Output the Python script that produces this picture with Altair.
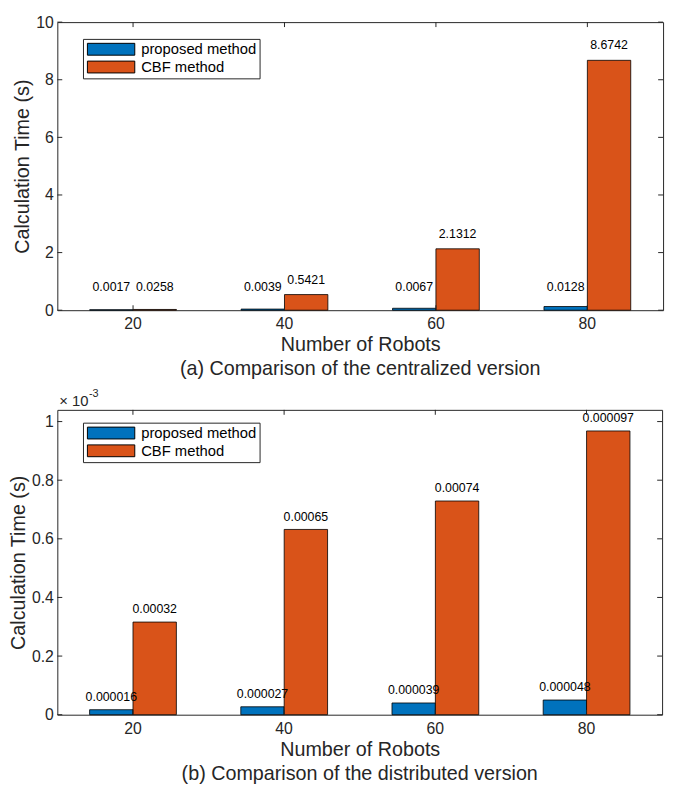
import altair as alt
import pandas as pd

FONT = "Liberation Sans"
AXC = "#262626"

robots = ["20", "40", "60", "80"]
methods = ["proposed method", "CBF method"]
colors = ["#0072BD", "#D95319"]

# (a) centralized version, seconds
cent_proposed = [0.017, 0.039, 0.067, 0.128]
cent_cbf = [0.026, 0.5421, 2.1312, 8.6742]
cent_proposed_labels = ["0.0017", "0.0039", "0.0067", "0.0128"]
cent_cbf_labels = ["0.0258", "0.5421", "2.1312", "8.6742"]

# (b) distributed version, x10^-3 seconds
dist_proposed = [0.017, 0.027, 0.040, 0.050]
dist_cbf = [0.316, 0.632, 0.729, 0.968]
dist_proposed_labels = ["0.000016", "0.000027", "0.000039", "0.000048"]
dist_cbf_labels = ["0.00032", "0.00065", "0.00074", "0.000097"]

cent_y_ticks = [0, 2, 4, 6, 8, 10]
dist_y_ticks = [0, 0.2, 0.4, 0.6, 0.8, 1.0]

captions = ["(a) Comparison of the centralized version",
            "(b) Comparison of the distributed version"]
exponent = ["× 10", "-3"]


def frame(prop, cbf, pl, cl):
    rows = []
    for i, r in enumerate(robots):
        rows.append({"robots": r, "method": methods[0], "value": prop[i], "label": pl[i]})
        rows.append({"robots": r, "method": methods[1], "value": cbf[i], "label": cl[i]})
    return pd.DataFrame(rows)


def panel(df, ymax, yticks, W, H, caption, floor, dy, legend_y, with_exp=False):
    xs = alt.Scale(paddingInner=0.427, paddingOuter=0.2135)
    xax = alt.Axis(labelAngle=0, ticks=False, domain=False, labelPadding=6, titlePadding=3)

    def X():
        return alt.X("robots:N", sort=robots, scale=xs, axis=xax, title="Number of Robots")

    ys = alt.Scale(domain=[0, ymax], nice=False, zero=True)
    yax = alt.Axis(values=yticks, format=".1~f", ticks=False, domain=False, grid=False,
                   labelPadding=4, titlePadding=3)

    def Y(f):
        return alt.Y(f, scale=ys, axis=yax, title="Calculation Time (s)")

    xo = alt.XOffset("method:N", sort=methods, scale=alt.Scale(paddingInner=0, paddingOuter=0))

    bars = alt.Chart(df).mark_bar(stroke="black", strokeWidth=0.8, opacity=1).encode(
        x=X(), xOffset=xo, y=Y("value:Q"),
        color=alt.Color("method:N", sort=methods,
                        scale=alt.Scale(domain=methods, range=colors),
                        legend=alt.Legend(title=None, orient="none", legendX=26, legendY=legend_y,
                                          symbolType="M-1,-1H7V1H-1Z", symbolSize=144,
                                          symbolStrokeColor="black", symbolStrokeWidth=1,
                                          symbolOpacity=1, labelFontSize=15, labelFont=FONT,
                                          labelColor="black", strokeColor=AXC, fillColor="white",
                                          padding=3, rowPadding=1, labelOffset=41)),
    )

    labels = alt.Chart(df).transform_calculate(
        ly=f"max(datum.value, {floor})"
    ).mark_text(dy=dy, fontSize=12.5, font=FONT, color="black", baseline="middle").encode(
        x=X(), xOffset=xo, y=Y("ly:Q"), text="label:N"
    )

    yt = pd.DataFrame({"v": yticks})
    xt = pd.DataFrame({"robots": robots})
    lt = alt.Chart(yt).mark_rule(color=AXC, strokeWidth=1).encode(
        y=Y("v:Q"), x=alt.value(0), x2=alt.value(5))
    rt = alt.Chart(yt).mark_rule(color=AXC, strokeWidth=1).encode(
        y=Y("v:Q"), x=alt.value(W - 5), x2=alt.value(W))
    bt = alt.Chart(xt).mark_rule(color=AXC, strokeWidth=1).encode(
        x=X(), y=alt.value(H), y2=alt.value(H - 5))
    tt = alt.Chart(xt).mark_rule(color=AXC, strokeWidth=1).encode(
        x=X(), y=alt.value(0), y2=alt.value(5))

    layers = [bars, labels, lt, rt, bt, tt]
    if with_exp:
        e1 = alt.Chart(pd.DataFrame({"t": [exponent[0]]})).mark_text(
            align="left", baseline="middle", fontSize=15, font=FONT, color=AXC
        ).encode(text="t:N", x=alt.value(2), y=alt.value(-9))
        e2 = alt.Chart(pd.DataFrame({"t": [exponent[1]]})).mark_text(
            align="left", baseline="middle", fontSize=11, font=FONT, color=AXC
        ).encode(text="t:N", x=alt.value(32), y=alt.value(-16))
        layers += [e1, e2]

    return alt.layer(*layers).properties(
        width=W, height=H,
        title=alt.Title(caption, orient="bottom", fontSize=20, fontWeight="normal",
                        font=FONT, color=AXC, offset=5),
    )


top = panel(frame(cent_proposed, cent_cbf, cent_proposed_labels, cent_cbf_labels),
            10, cent_y_ticks, 614, 292, captions[0], 0.3, -15, 17)
bottom = panel(frame(dist_proposed, dist_cbf, dist_proposed_labels, dist_cbf_labels),
               1.04, dist_y_ticks, 613, 309, captions[1], 0.0, -13, 13, with_exp=True)

chart = alt.vconcat(top, bottom, spacing=7).resolve_scale(
    color="independent"
).resolve_legend(color="independent").properties(
    padding={"top": 0, "left": 0, "right": 5, "bottom": 0}
).configure_view(stroke=AXC, strokeWidth=1).configure_axis(
    labelFont=FONT, labelFontSize=16, labelColor=AXC,
    titleFont=FONT, titleFontSize=20, titleFontWeight="normal", titleColor=AXC,
)

chart.save("out.html", embed_options={"renderer": "svg", "actions": False})
